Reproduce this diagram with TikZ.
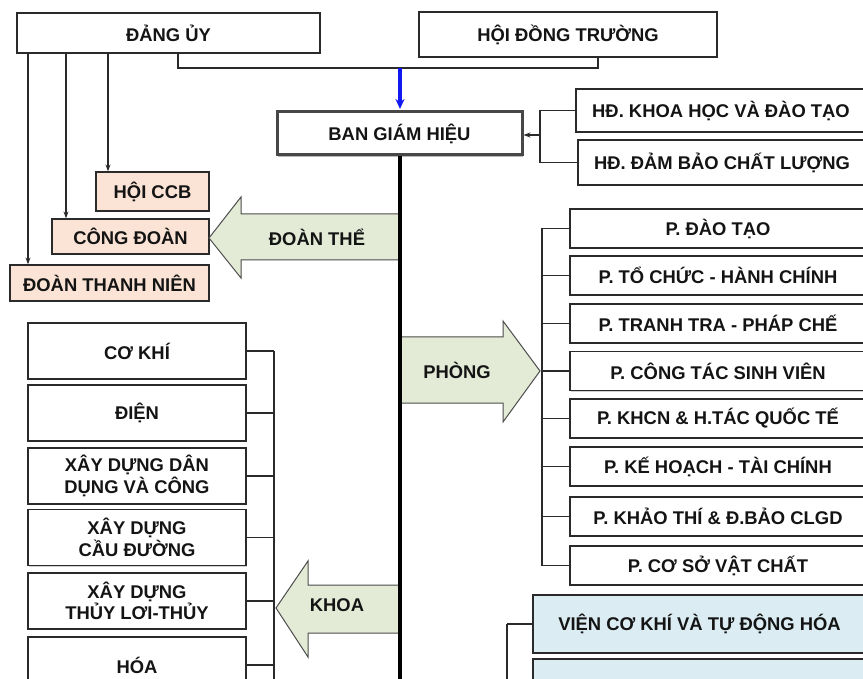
\documentclass[tikz,border=0pt]{standalone}
\usepackage{fontspec}
\setmainfont{Liberation Sans}
\usetikzlibrary{arrows.meta,shadows}
\definecolor{peachc}{HTML}{FBE4D5}
\definecolor{greenc}{HTML}{E3EBD7}
\definecolor{vienc}{HTML}{DBEDF3}
\definecolor{linec}{HTML}{2A2A2A}
\definecolor{txtc}{HTML}{141414}
\tikzset{
  box/.style={draw=linec, line width=1.2pt, fill=white, text=txtc,
    font=\bfseries\fontsize{18.4}{21.5}\selectfont, align=center,
    inner sep=0pt, anchor=center,
    drop shadow={shadow xshift=0.8pt,shadow yshift=-1.3pt,fill=black!35}},
  peachbox/.style={box, fill=peachc},
  vienbox/.style={box, fill=vienc},
  bghbox/.style={box, line width=3pt, draw=black!72,
    drop shadow={shadow xshift=1.2pt,shadow yshift=-1.8pt,fill=black!55}},
  conn/.style={draw=linec, line width=1.2pt},
  thinarr/.style={conn, -{Stealth[length=7pt,width=5pt]}},
  bluearr/.style={draw={rgb,255:red,15;green,25;blue,240}, line width=3.2pt, -{Stealth[length=10pt,width=9pt]}},
  spine/.style={draw=black, line width=3.4pt},
  bigarrow/.style={draw=black!70, line width=1pt, fill=greenc, line join=miter},
  lbl/.style={font=\bfseries\fontsize{18.4}{21.5}\selectfont, text=txtc, inner sep=0pt}
}
\begin{document}
\begin{tikzpicture}[x=1pt,y=-1pt]
\useasboundingbox (0,0) rectangle (863,679);
\clip (0,0) rectangle (863,679);
\fill[white] (0,0) rectangle (863,679);

% top boxes
\node[box, minimum width=303pt, minimum height=40pt] (dang) at (168.5,33) {ĐẢNG ỦY};
\node[box, minimum width=298pt, minimum height=45pt] (hdt) at (568,34.5) {HỘI ĐỒNG TRƯỜNG};
\node[bghbox, minimum width=245pt, minimum height=43pt] (bgh) at (399.5,133.5) {BAN GIÁM HIỆU};
\node[box, minimum width=290pt, minimum height=43pt] (hdkh) at (721,110.5) {HĐ. KHOA HỌC VÀ ĐÀO TẠO};
\node[box, minimum width=288pt, minimum height=45pt] (hddb) at (722,162.5) {HĐ. ĐẢM BẢO CHẤT LƯỢNG};

% doan the boxes
\node[peachbox, minimum width=113pt, minimum height=39pt] (ccb) at (152.5,191.5) {HỘI CCB};
\node[peachbox, minimum width=157pt, minimum height=35pt] (cd) at (130.5,236.5) {CÔNG ĐOÀN};
\node[peachbox, minimum width=199pt, minimum height=36pt] (dtn) at (109.5,283) {ĐOÀN THANH NIÊN};

% phong boxes
\node[box, minimum width=296pt, minimum height=39pt] (p1) at (718,228.5) {P. ĐÀO TẠO};
\node[box, minimum width=296pt, minimum height=39pt] (p2) at (718,275.5) {P. TỔ CHỨC - HÀNH CHÍNH};
\node[box, minimum width=296pt, minimum height=39pt] (p3) at (718,323.5) {P. TRANH TRA - PHÁP CHẾ};
\node[box, minimum width=296pt, minimum height=39pt] (p4) at (718,371) {P. CÔNG TÁC SINH VIÊN};
\node[box, minimum width=296pt, minimum height=39pt] (p5) at (718,418.5) {P. KHCN \& H.TÁC QUỐC TẾ};
\node[box, minimum width=296pt, minimum height=39pt] (p6) at (718,466.5) {P. KẾ HOẠCH - TÀI CHÍNH};
\node[box, minimum width=296pt, minimum height=39pt] (p7) at (718,516.5) {P. KHẢO THÍ \& Đ.BẢO CLGD};
\node[box, minimum width=296pt, minimum height=39pt] (p8) at (718,565.5) {P. CƠ SỞ VẬT CHẤT};

% vien boxes
\node[vienbox, minimum width=333pt, minimum height=58pt] (vn1) at (699.5,624) {VIỆN CƠ KHÍ VÀ TỰ ĐỘNG HÓA};
\node[vienbox, minimum width=333pt, minimum height=58pt] (vn2) at (699.5,688) {};

% khoa boxes
\node[box, minimum width=218pt, minimum height=56pt] (k1) at (137,351) {CƠ KHÍ};
\node[box, minimum width=218pt, minimum height=56pt] (k2) at (137,413) {ĐIỆN};
\node[box, minimum width=218pt, minimum height=56pt] (k3) at (137,476) {XÂY DỰNG DÂN\\DỤNG VÀ CÔNG};
\node[box, minimum width=218pt, minimum height=56pt] (k4) at (137,537.5) {XÂY DỰNG\\CẦU ĐƯỜNG};
\node[box, minimum width=218pt, minimum height=56pt] (k5) at (137,601) {XÂY DỰNG\\THỦY LƠI-THỦY};
\node[box, minimum width=218pt, minimum height=56pt] (k6) at (137,665) {HÓA};

% big arrows
\draw[bigarrow] (209,238) -- (241,197) -- (241,214) -- (399,214) -- (399,260) -- (241,260) -- (241,278) -- cycle;
\node[lbl] (ldt) at (317,237) {ĐOÀN THỂ};
\draw[bigarrow] (401,337) -- (503,337) -- (503,321) -- (540,371) -- (503,422) -- (503,403) -- (401,403) -- cycle;
\node[lbl] (lph) at (457,370) {PHÒNG};
\draw[bigarrow] (276,608) -- (308,561) -- (308,585) -- (399,585) -- (399,633) -- (308,633) -- (308,657) -- cycle;
\node[lbl] (lkh) at (337,605) {KHOA};

% coordinates
\coordinate (j1) at (178,68);
\coordinate (j2) at (598,68);
\coordinate (jb) at (400,68);
\coordinate (v1) at (28,0);
\coordinate (v2) at (66,0);
\coordinate (v3) at (108,0);
\coordinate (hj) at (540,135);
\coordinate (pj) at (542,0);
\coordinate (kj) at (274,700);
\coordinate (vj) at (507,700);
\coordinate (sp) at (0,700);

% connectors
\draw[conn] (dang.south -| j1) -- (j1) -- (j2) -- (hdt.south -| j2);
\draw[bluearr] (jb) -- ([yshift=1.5pt]jb |- bgh.north);
\draw[thinarr] (dang.south -| v1) -- (dtn.north -| v1);
\draw[thinarr] (dang.south -| v2) -- (cd.north -| v2);
\draw[thinarr] (dang.south -| v3) -- (ccb.north -| v3);
\draw[conn] (hdkh.west) -| (hj) |- (hddb.west);
\draw[thinarr] (hj) -- (hj -| bgh.east);
\draw[spine] (bgh.south -| jb) -- (sp -| jb);

\draw[conn] (p1.west -| pj) -- (p8.west -| pj);
\foreach \i in {1,...,8} { \draw[conn] (p\i.west) -- (p\i.west -| pj); }

\draw[conn] (k1.east -| kj) -- (kj);
\foreach \i in {1,...,6} { \draw[conn] (k\i.east) -- (k\i.east -| kj); }

\draw[conn] (vn1.west -| vj) -- (vj);
\draw[conn] (vn1.west) -- (vn1.west -| vj);
\draw[conn] (vn2.west) -- (vn2.west -| vj);
\end{tikzpicture}
\end{document}
